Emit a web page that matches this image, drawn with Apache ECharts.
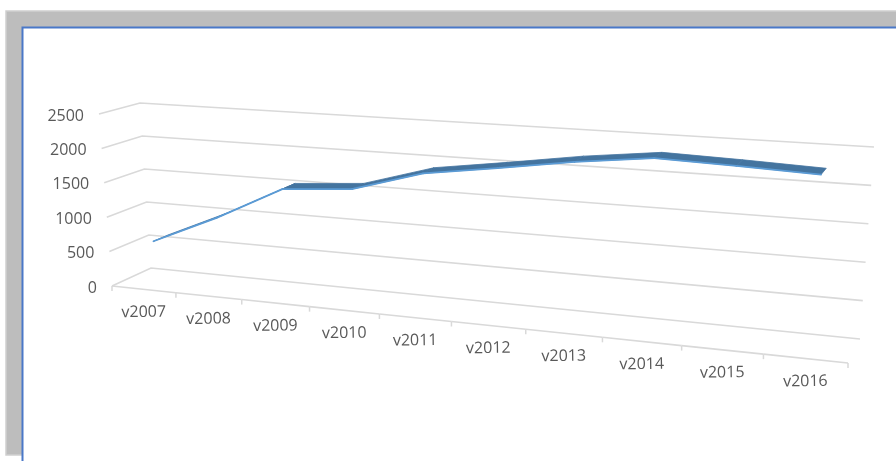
<!DOCTYPE html>
<html><head><meta charset="utf-8">
<style>html,body{margin:0;padding:0;background:#fff}#c{width:896px;height:461px}</style>
<script src="https://cdn.jsdelivr.net/npm/echarts@6/dist/echarts.min.js"></script>
</head><body><div id="c"></div>
<script>
const categories = ['v2007','v2008','v2009','v2010','v2011','v2012','v2013','v2014','v2015','v2016'];
const values = [615,1040,1530,1605,1900,2045,2200,2320,2290,2250];
const yTicks = [0,500,1000,1500,2000,2500];

// perspective of the 3D plot box
const GL=112, GT=114, GW=736, GH=172;
const F0=[112,286],F1=[848,363],B0=[151,268],B1=[860,339];
const HF0=[-13,-172],HF1=[14,-200],HB0=[-11,-165],HB1=[14,-192];
const WARP=-0.144, Z1=0.33, Z2=0.71;
const mix=(a,b,t)=>[a[0]+(b[0]-a[0])*t,a[1]+(b[1]-a[1])*t];
function project(u,h,z){
  const t=u*(1+WARP)/(1+WARP*u);
  const base=mix(mix(F0,F1,t),mix(B0,B1,t),z);
  const up=mix(mix(HF0,HF1,t),mix(HB0,HB1,t),z);
  return [base[0]+up[0]*h,base[1]+up[1]*h];
}
// data space -> unit box, through the library's own axes
function unit(api,i,v){
  const p=api.coord([i,v]);
  return [(p[0]-GL)/GW,(GT+GH-p[1])/GH];
}
const gridColor='#d9d9d9', textColor='#595959', font='"Open Sans"';

const chart=echarts.init(document.getElementById('c'),null,{renderer:'canvas'});
chart.setOption({
  animation:false,
  backgroundColor:'#fff',
  grid:{left:GL,top:GT,width:GW,height:GH},
  xAxis:{type:'category',data:categories,show:false},
  yAxis:{type:'value',min:0,max:2500,interval:500,show:false},
  graphic:[
    {type:'rect',z:-10,silent:true,shape:{x:6,y:11,width:900,height:444},style:{fill:'#bdbdbd',stroke:'#cfcfcf',lineWidth:1.5}},
    {type:'rect',z:-9,silent:true,shape:{x:22.5,y:27.5,width:900,height:460},style:{fill:'#fff',stroke:'#4a78c8',lineWidth:2}}
  ],
  series:[
    {type:'custom',coordinateSystem:'cartesian2d',silent:true,z:1,
     data:yTicks.map(v=>[0,v]),encode:{x:0,y:1},
     renderItem(p,api){
       const v=api.value(1), h=unit(api,0,v)[1];
       const a=project(0,h,0),b=project(0,h,1),c=project(1,h,1);
       return {type:'group',children:[
         {type:'polyline',shape:{points:[a,b,c]},style:{stroke:gridColor,lineWidth:1.6,fill:null}},
         {type:'text',x:a[0]-15,y:a[1]+2,style:{text:String(v),align:'right',verticalAlign:'middle',fill:textColor,font:'16px '+font}}
       ]};
     }},
    {type:'custom',coordinateSystem:'cartesian2d',silent:true,z:1,
     data:categories.map((c,i)=>[i,0]),encode:{x:0,y:1},
     renderItem(p,api){
       const i=p.dataIndex, half=api.size([1,0])[0]/2/GW;
       const uc=unit(api,i,0)[0];
       const kids=[];
       const l=project(uc-half,0,0), r=project(uc+half,0,0), m=project(uc,0,0);
       kids.push({type:'line',shape:{x1:l[0],y1:l[1],x2:r[0],y2:r[1]},style:{stroke:gridColor,lineWidth:1.6}});
       kids.push({type:'line',shape:{x1:l[0],y1:l[1],x2:l[0],y2:l[1]+5},style:{stroke:gridColor,lineWidth:1.5}});
       if(i===categories.length-1) kids.push({type:'line',shape:{x1:r[0],y1:r[1],x2:r[0],y2:r[1]+5},style:{stroke:gridColor,lineWidth:1.5}});
       kids.push({type:'text',x:m[0],y:m[1]+23,rotation:0.015,style:{text:categories[i],align:'center',verticalAlign:'middle',fill:textColor,font:'16px '+font}});
       return {type:'group',children:kids};
     }},
    {type:'custom',coordinateSystem:'cartesian2d',silent:true,z:3,
     data:values.map((v,i)=>[i,v]),encode:{x:0,y:1},
     renderItem(p,api){
       const i=p.dataIndex;
       if(i>=values.length-1) return null;
       const a=unit(api,i,values[i]), b=unit(api,i+1,values[i+1]);
       const a1=project(a[0],a[1],Z1), a2=project(a[0],a[1],Z2), b1=project(b[0],b[1],Z1), b2=project(b[0],b[1],Z2);
       return {type:'group',children:[
         {type:'polygon',shape:{points:[a1,b1,b2,a2]},style:{fill:'#44749f',stroke:'#44749f',lineWidth:0.8}},
         {type:'line',shape:{x1:a1[0],y1:a1[1],x2:b1[0],y2:b1[1]},style:{stroke:'#5b9bd5',lineWidth:1.8,lineCap:'round'}}
       ]};
     }}
  ]
});
</script></body></html>
